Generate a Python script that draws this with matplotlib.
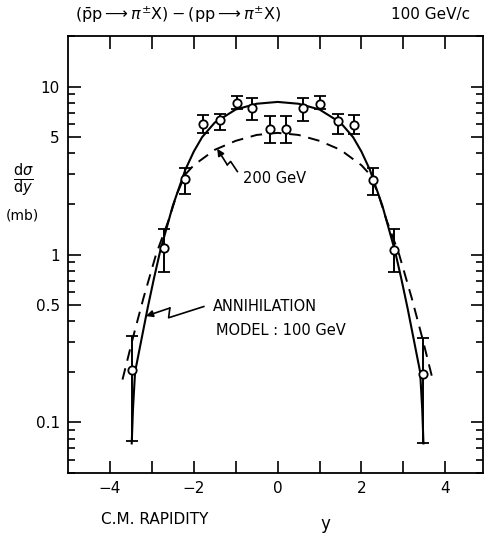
import matplotlib
matplotlib.use("Agg")
import matplotlib.pyplot as plt
import numpy as np

# data points (p-bar p - p p) -> pi+- X at 100 GeV/c
rapidity = [-3.48, -2.72, -2.21, -1.77, -1.38, -0.98, -0.60, -0.19,
            0.21, 0.60, 1.02, 1.44, 1.83, 2.28, 2.77, 3.47]
dsig = [0.206, 1.09, 2.82, 6.0, 6.3, 7.95, 7.5, 5.57,
        5.57, 7.43, 7.9, 6.2, 5.92, 2.79, 1.07, 0.194]
err_hi = [0.325, 1.41, 3.27, 6.8, 6.9, 8.8, 8.6, 6.7,
          6.7, 8.5, 8.8, 6.9, 6.8, 3.27, 1.41, 0.32]
err_lo = [0.078, 0.79, 2.3, 5.27, 5.5, 7.4, 6.3, 4.64,
          4.64, 6.25, 7.4, 5.2, 5.2, 2.27, 0.79, 0.075]

# annihilation model, 100 GeV (solid)
model_x = [-3.48, -3.45, -3.40, -3.25, -3.10, -2.95, -2.80, -2.50, -2.20, -2.00,
           -1.80, -1.50, -1.00, -0.50, 0.0, 0.50, 1.00, 1.50, 1.80, 2.00,
           2.20, 2.50, 2.80, 2.95, 3.10, 3.25, 3.40, 3.45, 3.48]
model_y = [0.075, 0.12, 0.20, 0.31, 0.48, 0.72, 1.05, 1.95, 3.2, 4.1,
           5.0, 6.1, 7.3, 7.9, 8.1, 7.9, 7.3, 6.1, 5.0, 4.1,
           3.2, 1.95, 1.05, 0.72, 0.48, 0.31, 0.20, 0.12, 0.075]

# 200 GeV (dashed)
d200_x = [-3.70, -3.45, -3.20, -2.90, -2.60, -2.40, -2.20, -2.00, -1.50, -1.00,
          -0.50, 0.0, 0.50, 1.00, 1.50, 2.00, 2.20, 2.40, 2.60, 2.90,
          3.20, 3.45, 3.70]
d200_y = [0.18, 0.32, 0.55, 1.0, 1.6, 2.3, 3.0, 3.4, 4.2, 4.75,
          5.15, 5.3, 5.15, 4.75, 4.2, 3.4, 3.0, 2.3, 1.6, 1.0,
          0.55, 0.32, 0.18]

plt.rcParams['mathtext.fontset'] = 'dejavusans'

fig = plt.figure(figsize=(4.87, 5.37), dpi=100)
ax = fig.add_axes([68 / 487, 1 - 473 / 537, 415 / 487, 437 / 537])

ax.plot(model_x, model_y, color='black', lw=1.5)
ax.plot(d200_x, d200_y, color='black', lw=1.4, linestyle=(0, (6, 4)))

dsig_a = np.array(dsig)
yerr = [dsig_a - np.array(err_lo), np.array(err_hi) - dsig_a]
ax.errorbar(rapidity, dsig, yerr=yerr, fmt='o', ms=6, mfc='white', mec='black',
            mew=1.3, ecolor='black', elinewidth=1.4, capsize=4.5, capthick=1.4)

ax.set_yscale('log')
ax.set_xlim(-5, 4.9)
ax.set_ylim(0.05, 20)

ax.set_xticks([-4, -3, -2, -1, 0, 1, 2, 3, 4])
ax.set_xticklabels(['\u22124', '', '\u22122', '', '0', '', '2', '', '4'])
ax.set_yticks([0.1, 0.5, 1, 5, 10])
ax.set_yticklabels(['0.1', '0.5', '1', '5', '10'])
ax.yaxis.set_minor_locator(matplotlib.ticker.LogLocator(base=10, subs=np.arange(2, 10)))
ax.yaxis.set_minor_formatter(matplotlib.ticker.NullFormatter())
ax.tick_params(axis='both', which='major', direction='in', length=9, width=1.2,
               top=True, right=True, labelsize=11, pad=6)
ax.tick_params(axis='y', which='minor', direction='in', length=5, width=1.2,
               right=True)
for s in ax.spines.values():
    s.set_linewidth(1.3)

# zigzag pointers
ax.plot([-0.96, -1.12, -1.20], [3.12, 3.58, 3.42], color='black', lw=1.2)
ax.annotate('', xy=(-1.44, 4.26), xytext=(-1.20, 3.42),
            arrowprops=dict(arrowstyle='-|>', color='black', lw=1.2,
                            mutation_scale=10, shrinkA=0, shrinkB=0))
ax.text(-0.82, 2.85, '200 GeV', fontsize=10.5, ha='left', va='center')

ax.plot([-1.76, -2.60, -2.57], [0.49, 0.42, 0.48], color='black', lw=1.2)
ax.annotate('', xy=(-3.14, 0.43), xytext=(-2.57, 0.48),
            arrowprops=dict(arrowstyle='-|>', color='black', lw=1.2,
                            mutation_scale=10, shrinkA=0, shrinkB=0))
ax.text(-1.55, 0.49, 'ANNIHILATION', fontsize=10.5, ha='left', va='center')
ax.text(-1.47, 0.355, 'MODEL : 100 GeV', fontsize=10.5, ha='left', va='center')

# labels
fig.text(75 / 487, 1 - 15 / 537,
         r'$(\bar{\mathrm{p}}\mathrm{p} \longrightarrow \pi^{\pm}\mathrm{X})'
         r'-(\mathrm{pp} \longrightarrow \pi^{\pm}\mathrm{X})$',
         fontsize=11.5, ha='left', va='center')
fig.text(470 / 487, 1 - 15 / 537, '100 GeV/c', fontsize=11, ha='right', va='center')
fig.text(23 / 487, 1 - 180 / 537, r'$\frac{\mathrm{d}\sigma}{\mathrm{d}y}$',
         fontsize=15, ha='center', va='center')
fig.text(22 / 487, 1 - 215 / 537, '(mb)', fontsize=10, ha='center', va='center')
fig.text(155 / 487, 1 - 520 / 537, 'C.M. RAPIDITY', fontsize=11, ha='center', va='center')
fig.text(325 / 487, 1 - 524 / 537, 'y', fontsize=12, ha='center', va='center')

fig.savefig('out.png', dpi=100)
